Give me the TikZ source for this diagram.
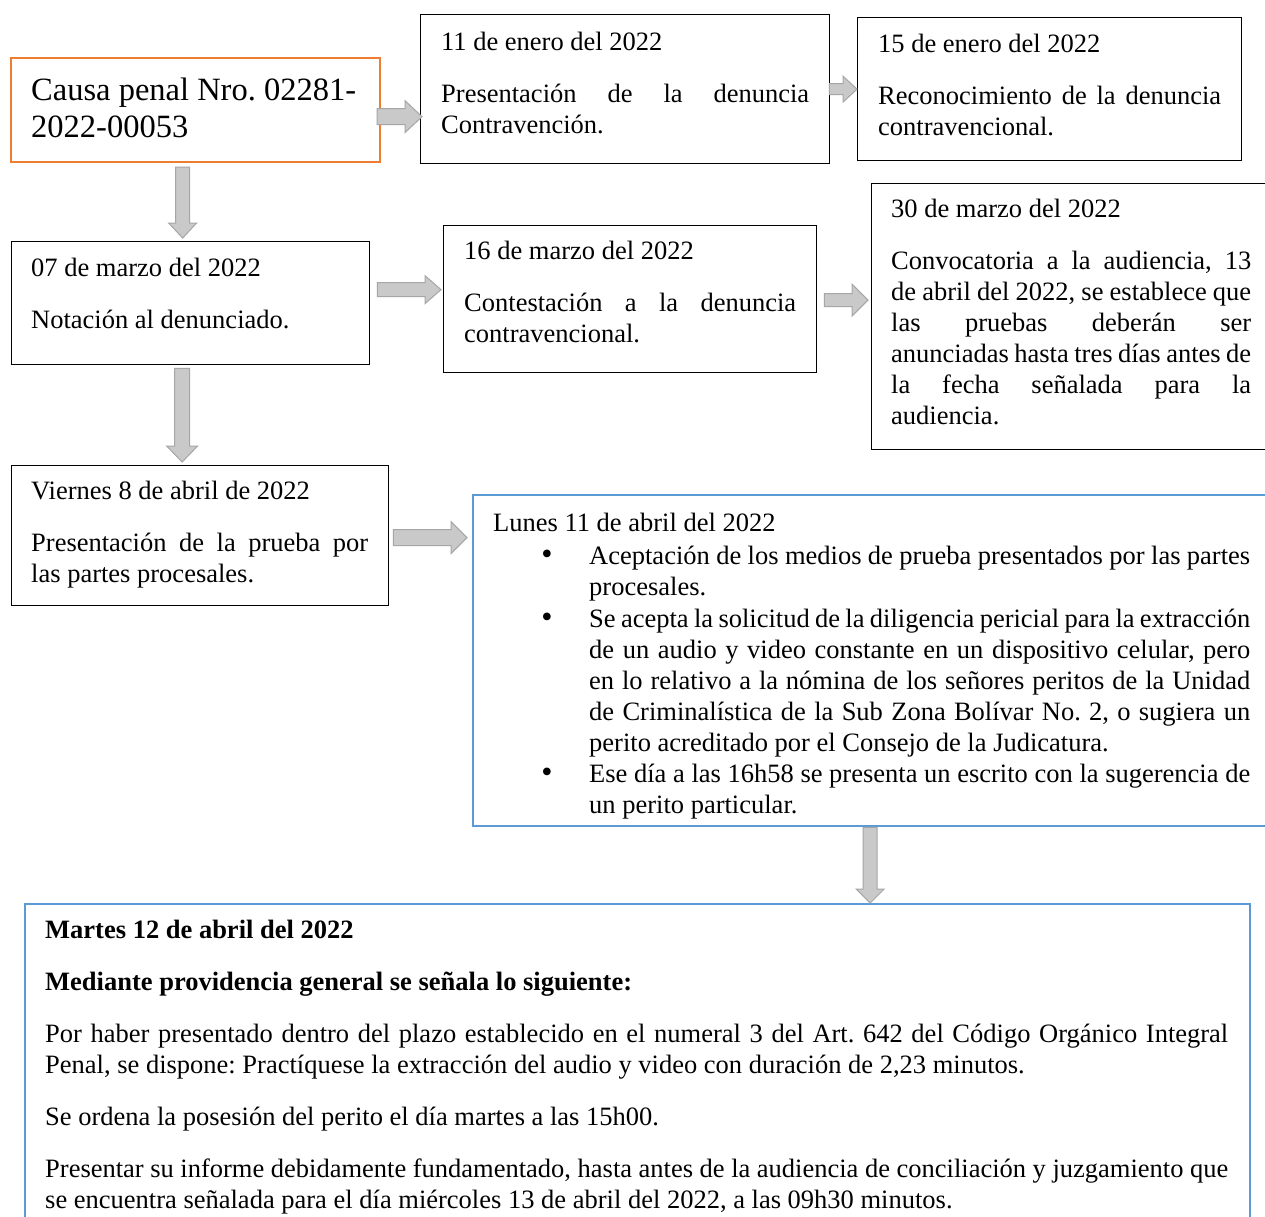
\documentclass[tikz,border=0pt]{standalone}
\usepackage{fontspec}
\setmainfont{Liberation Serif}
\usetikzlibrary{calc}
\definecolor{orangeline}{HTML}{ED7D31}
\definecolor{blueline}{HTML}{5B9BD5}
\definecolor{arrowfill}{HTML}{C9C9C9}
\definecolor{arrowline}{HTML}{A6A6A6}
\hbadness=10000
\frenchspacing
\newcommand{\normspaces}{\spaceskip=0pt\relax\xspaceskip=0pt\relax}
\newcommand{\jl}[1]{\leavevmode\hbox to \hsize{\normspaces #1}}
% right-pointing block arrow: start, tip, shaft half, head half, head length
\newcommand{\rarrow}[5]{\path[blockarrow] let \p1=#1, \p2=#2 in
  (\x1,\y2+#3) -- (\x2-#5,\y2+#3) -- (\x2-#5,\y2+#4) -- (\x2,\y2) --
  (\x2-#5,\y2-#4) -- (\x2-#5,\y2-#3) -- (\x1,\y2-#3) -- cycle;}
% down-pointing block arrow
\newcommand{\darrow}[5]{\path[blockarrow] let \p1=#1, \p2=#2 in
  (\x2+#3,\y1) -- (\x2+#3,\y2+#5) -- (\x2+#4,\y2+#5) -- (\x2,\y2) --
  (\x2-#4,\y2+#5) -- (\x2-#3,\y2+#5) -- (\x2-#3,\y1) -- cycle;}
\begin{document}
\begin{tikzpicture}[x=1pt,y=-1pt,
  blkbox/.style={draw=black, line width=1.3pt, inner sep=0pt, anchor=north west},
  orangebox/.style={blkbox, draw=orangeline, line width=2.2pt},
  bluebox/.style={blkbox, draw=blueline, line width=2.4pt},
  txt/.style={inner sep=0pt, anchor=base west, align=left,
              font=\fontsize{26.5}{31}\selectfont\frenchspacing,
              execute at begin node={\normspaces}},
  bul/.style={inner sep=0pt, anchor=base, font=\fontsize{32}{31}\selectfont},
  blockarrow/.style={fill=arrowfill, draw=arrowline, line width=1pt}]
\fill[white] (0,0) rectangle (1265,1216);
\useasboundingbox (0,0) rectangle (1265,1216);

% boxes
\node[orangebox, minimum width=369pt, minimum height=104pt] (A) at (10,57) {};
\node[blkbox, minimum width=409pt, minimum height=149pt] (B) at (420,14) {};
\node[blkbox, minimum width=384pt, minimum height=143pt] (C) at (857,17) {};
\node[blkbox, minimum width=358pt, minimum height=123pt] (D) at (11,241) {};
\node[blkbox, minimum width=373pt, minimum height=147pt] (E) at (443,225) {};
\node[blkbox, minimum width=410pt, minimum height=266pt] (F) at (871,183) {};
\node[blkbox, minimum width=377pt, minimum height=140pt] (G) at (11,465) {};
\node[bluebox, minimum width=810pt, minimum height=331pt] (H) at (472,494) {};
\node[bluebox, minimum width=1225pt, minimum height=330pt] (I) at (24,903) {};

% texts
\node[txt, text width=345pt, font=\fontsize{32.5}{37}\selectfont\frenchspacing] (At) at (31,100)
  {Causa penal Nro. 02281-\\2022-00053};
\node[txt, text width=368pt] (Bt) at (441,50)
  {11 de enero del 2022\\[21pt]\jl{Presentación de la denuncia}\\Contravención.};
\node[txt, text width=343pt] (Ct) at (878,52)
  {15 de enero del 2022\\[21pt]\jl{Reconocimiento de la denuncia}\\contravencional.};
\node[txt, text width=318pt] (Dt) at (31,276)
  {07 de marzo del 2022\\[21pt]Notación al denunciado.};
\node[txt, text width=332pt] (Et) at (464,259)
  {16 de marzo del 2022\\[21pt]\jl{Contestación a la denuncia}\\contravencional.};
\node[txt, text width=360pt] (Ft) at (891,217)
  {30 de marzo del 2022\\[21pt]\jl{Convocatoria a la audiencia, 13}\\
   \jl{de abril del 2022, se establece que}\\
   \jl{las pruebas deberán ser}\\
   \jl{anunciadas hasta tres días antes de}\\
   \jl{la fecha señalada para la}\\
   audiencia.};
\node[txt, text width=337pt] (Gt) at (31,499)
  {Viernes 8 de abril de 2022\\[21pt]\jl{Presentación de la prueba por}\\las partes procesales.};
\node[txt, text width=740pt] (Ht) at (493,531) {Lunes 11 de abril del 2022};
\node[bul] (Hb1) at (547,564) {•};
\node[bul] (Hb2) at (547,627) {•};
\node[bul] (Hb3) at (547,782) {•};
\node[txt, text width=661pt] (H1) at (589,564)
  {\jl{Aceptación de los medios de prueba presentados por las partes}\\procesales.};
\node[txt, text width=661pt] (H2) at (589,627)
  {\jl{Se acepta la solicitud de la diligencia pericial para la extracción}\\
   \jl{de un audio y video constante en un dispositivo celular, pero}\\
   \jl{en lo relativo a la nómina de los señores peritos de la Unidad}\\
   \jl{de Criminalística de la Sub Zona Bolívar No. 2, o sugiera un}\\
   perito acreditado por el Consejo de la Judicatura.};
\begin{scope}
\clip (472,494) rectangle (1280,818);
\node[txt, text width=661pt] (H3) at (589,782)
  {\jl{Ese día a las 16h58 se presenta un escrito con la sugerencia de}\\
   un perito particular.};
\end{scope}
\node[txt, text width=1183pt] (It) at (45,938)
  {\textbf{Martes 12 de abril del 2022}\\[21pt]
   \textbf{Mediante providencia general se señala lo siguiente:}\\[21pt]
   \jl{Por haber presentado dentro del plazo establecido en el numeral 3 del Art. 642 del Código Orgánico Integral}\\
   Penal, se dispone: Practíquese la extracción del audio y video con duración de 2,23 minutos.\\[21pt]
   Se ordena la posesión del perito el día martes a las 15h00.\\[21pt]
   \jl{Presentar su informe debidamente fundamentado, hasta antes de la audiencia de conciliación y juzgamiento que}\\
   se encuentra señalada para el día miércoles 13 de abril del 2022, a las 09h30 minutos.};

% arrows
\rarrow{([xshift=-4pt]A.east)}{([xshift=2pt,yshift=-27.5pt]B.west)}{8pt}{16pt}{17pt}
\rarrow{([xshift=-1pt]B.east)}{(C.west)}{5.5pt}{13pt}{14pt}
\darrow{([yshift=-4pt]A.south)}{([xshift=-8pt,yshift=3pt]D.north)}{7pt}{14pt}{15pt}
\rarrow{([xshift=7pt]D.east)}{([xshift=-2pt,yshift=9.5pt]E.west)}{7pt}{14pt}{16pt}
\rarrow{([xshift=7pt]E.east)}{([xshift=-3pt,yshift=16.5pt]F.west)}{6.5pt}{16pt}{16pt}
\darrow{([yshift=-3pt]D.south)}{([xshift=-18pt,yshift=3pt]G.north)}{7.5pt}{15.5pt}{16pt}
\rarrow{([xshift=4pt]G.east)}{($(H.west |- G.east)+(-5,2)$)}{8pt}{16pt}{16pt}
\darrow{(H.south)}{($(H.south |- I.north)+(-8,0)$)}{7pt}{14pt}{14pt}
\end{tikzpicture}
\end{document}
